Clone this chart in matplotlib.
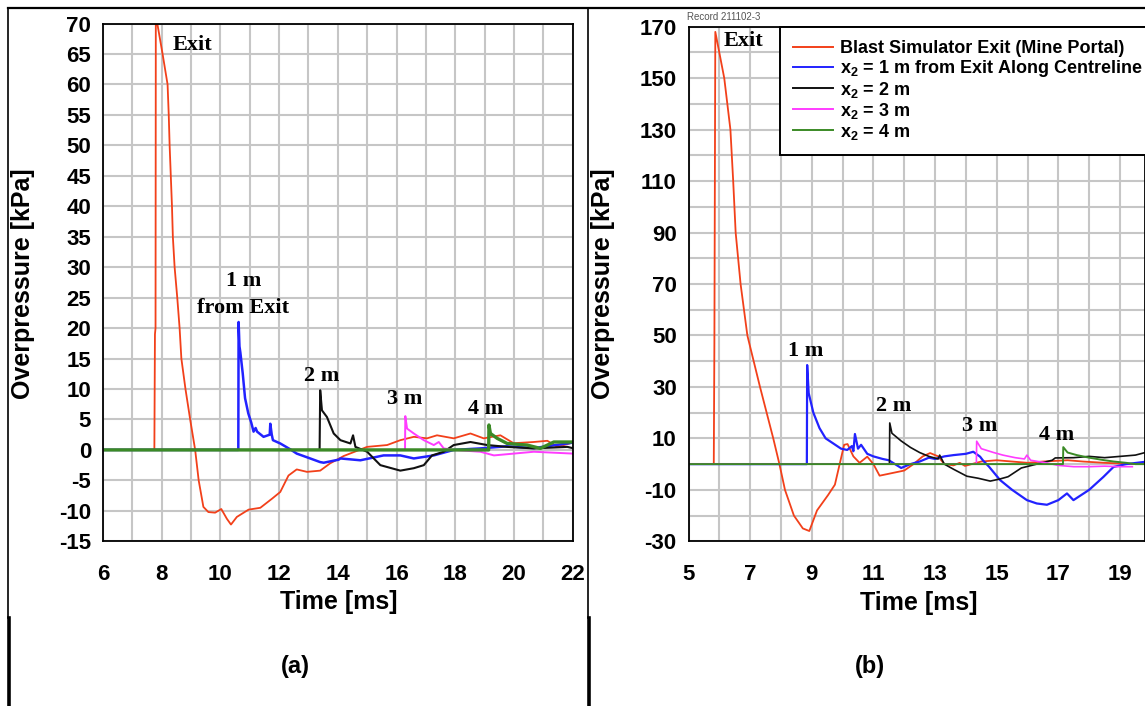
import matplotlib
matplotlib.use("Agg")
import matplotlib.pyplot as plt
from matplotlib.lines import Line2D
from matplotlib.ticker import MultipleLocator, FixedLocator

plt.rcParams["axes.unicode_minus"] = False
plt.rcParams["mathtext.fontset"] = "custom"
plt.rcParams["mathtext.rm"] = "Liberation Sans:bold"
plt.rcParams["mathtext.it"] = "Liberation Sans:bold"
plt.rcParams["mathtext.bf"] = "Liberation Sans:bold"

# ---------------- data: panel (a) ----------------
a_exit_t = [6.0, 7.75, 7.77, 7.79, 7.80, 7.85, 8.03, 8.20, 8.24, 8.27, 8.31, 8.35, 8.38, 8.44, 8.53, 8.61,
            8.67, 8.81, 8.97, 9.14, 9.26, 9.42, 9.59, 9.82, 10.03, 10.22, 10.36, 10.56, 10.96, 11.36,
            11.76, 12.04, 12.32, 12.60, 12.95, 13.40, 13.74, 14.09, 14.20, 15.00, 15.68, 16.13, 16.59,
            17.04, 17.38, 17.95, 18.52, 18.97, 19.54, 19.99, 20.67, 21.14, 21.48, 22.0]
a_exit_p = [0.0, 0.0, 19.0, 20.0, 74.0, 70.0, 65.0, 60.0, 55.0, 50.0, 45.0, 40.0, 35.0, 30.0, 25.0, 20.0,
            15.0, 10.0, 5.0, 0.0, -5.0, -9.35, -10.2, -10.3, -9.7, -11.3, -12.25, -11.0, -9.8, -9.5,
            -8.0, -6.9, -4.2, -3.2, -3.6, -3.4, -2.2, -1.3, -1.0, 0.5, 0.8, 1.6, 2.15,
            1.9, 2.4, 1.9, 2.7, 1.9, 2.4, 1.1, 1.3, 1.5, 0.5, 1.2]

a_1m_t = [6.0, 10.61, 10.62, 10.65, 10.68, 10.76, 10.84, 10.95, 11.05, 11.13, 11.20, 11.25, 11.47, 11.68,
          11.70, 11.75, 11.79, 12.04, 12.38, 12.60, 13.06, 13.40, 13.52, 14.03, 14.09, 14.77, 15.56,
          16.13, 16.59, 17.27, 17.95, 18.86, 19.77, 20.68, 21.82, 22.0]
a_1m_p = [0.0, 0.0, 21.0, 17.0, 16.0, 12.6, 8.5, 6.0, 4.5, 3.0, 3.6, 3.0, 2.15, 2.5,
          4.3, 2.5, 1.6, 1.06, 0.1, -0.6, -1.4, -2.0, -2.1, -1.6, -1.4, -1.7, -0.9,
          -0.9, -1.4, -0.9, 0.0, 0.25, 0.6, 0.3, 1.06, 1.2]

a_2m_t = [6.0, 13.38, 13.40, 13.46, 13.63, 13.86, 14.09, 14.43, 14.52, 14.60, 15.00, 15.45, 16.13,
          16.59, 16.93, 17.21, 17.61, 17.95, 18.52, 19.09, 19.77, 20.68, 21.82, 22.0]
a_2m_p = [0.0, 0.0, 9.8, 6.5, 5.4, 2.7, 1.6, 1.06, 2.4, 0.5, -0.3, -2.5, -3.4,
          -3.0, -2.5, -0.9, -0.3, 0.8, 1.3, 0.8, 0.5, 0.25, 0.5, 0.3]

a_3m_t = [6.0, 16.29, 16.30, 16.36, 16.59, 16.93, 17.27, 17.44, 17.61, 17.95, 18.86, 19.32, 20.0,
          20.68, 22.0]
a_3m_p = [0.0, 0.0, 5.55, 3.5, 2.7, 1.6, 0.8, 1.3, 0.25, 0.0, -0.3, -0.9, -0.6,
          -0.3, -0.6]

a_4m_t = [6.0, 19.14, 19.15, 19.20, 19.43, 19.77, 20.45, 20.90, 21.36, 22.0]
a_4m_p = [0.0, 0.0, 4.1, 2.7, 1.9, 1.06, 0.8, 0.25, 1.3, 1.3]

# ---------------- data: panel (b) ----------------
b_exit_t = [5.0, 5.82, 5.84, 5.87, 6.16, 6.36, 6.45, 6.53, 6.69, 6.91, 7.32, 7.75, 7.95, 8.13, 8.42,
            8.71, 8.92, 9.17, 9.53, 9.75, 10.05, 10.16, 10.35, 10.55, 10.80, 11.0, 11.2, 11.6, 12.0,
            12.3, 12.6, 12.84, 13.1, 13.3, 13.6, 13.8, 13.97, 14.5, 15.0, 15.5, 16.0, 16.5, 17.3,
            17.8, 18.5, 19.5, 19.82]
b_exit_p = [0.0, 0.0, 47.0, 168.0, 150.0, 130.0, 110.0, 90.0, 70.0, 50.0, 30.0, 10.0, 0.0, -10.0, -20.0,
            -25.0, -26.0, -18.0, -12.0, -8.0, 7.5, 7.8, 3.0, 0.5, 2.9, 0.0, -4.5, -3.5, -2.5,
            0.0, 3.0, 4.3, 3.0, 0.0, -0.5, 0.5, -0.7, 1.0, 1.5, 1.0, 0.5, 1.0, 1.5,
            1.0, 0.5, 0.0, 0.0]

b_1m_t = [5.0, 8.84, 8.85, 8.90, 9.05, 9.25, 9.45, 9.70, 9.95, 10.15, 10.30, 10.35, 10.40, 10.50,
          10.60, 10.80, 11.0, 11.3, 11.5, 11.7, 11.9, 12.2, 12.5, 12.8, 13.0, 13.3, 13.6, 14.0,
          14.24, 14.46, 14.55, 14.75, 15.11, 15.5, 15.98, 16.3, 16.63, 17.0, 17.28, 17.49, 18.0,
          18.46, 18.79, 19.2, 19.82]
b_1m_p = [0.0, 0.0, 38.5, 27.6, 20.0, 14.0, 10.0, 8.0, 6.0, 5.5, 7.0, 5.0, 11.7, 6.0,
          7.5, 4.0, 3.0, 2.0, 1.5, 0.0, -1.5, 0.0, 1.0, 2.5, 2.0, 3.0, 3.5, 4.0,
          4.8, 2.9, 1.5, -1.0, -6.2, -10.0, -14.0, -15.3, -15.8, -14.0, -11.4, -14.0, -10.0,
          -5.0, -1.1, 0.0, 0.9]

b_2m_t = [5.0, 11.52, 11.53, 11.60, 11.90, 12.20, 12.50, 12.80, 13.10, 13.15, 13.30, 13.60, 14.03,
          14.40, 14.79, 15.10, 15.37, 15.80, 16.30, 16.80, 16.90, 17.50, 18.0, 18.5, 19.0, 19.5, 19.82]
b_2m_p = [0.0, 0.0, 16.0, 12.0, 9.0, 6.5, 4.5, 3.0, 2.0, 3.5, 0.0, -2.0, -4.7,
          -5.5, -6.6, -5.8, -4.9, -1.5, 0.0, 1.5, 2.4, 2.5, 3.0, 2.5, 3.0, 3.5, 4.5]

b_3m_t = [5.0, 14.34, 14.35, 14.50, 14.90, 15.20, 15.60, 15.90, 15.98, 16.10, 16.60, 17.0, 17.5,
          18.0, 18.5, 19.0, 19.4]
b_3m_p = [0.0, 0.0, 8.9, 6.0, 4.5, 3.5, 2.5, 2.0, 3.5, 1.5, 0.5, -0.5, -1.0,
          -1.0, -0.8, -1.0, -1.0]

b_4m_t = [5.0, 17.15, 17.16, 17.30, 17.60, 18.0, 18.5, 18.8, 19.2, 19.5, 19.82]
b_4m_p = [0.0, 0.0, 6.6, 4.5, 3.5, 2.5, 1.5, 1.0, 0.5, 0.0, 0.0]

# tick values
a_xticks = [6, 8, 10, 12, 14, 16, 18, 20, 22]
a_yticks = [-15, -10, -5, 0, 5, 10, 15, 20, 25, 30, 35, 40, 45, 50, 55, 60, 65, 70]
b_xticks = [5, 7, 9, 11, 13, 15, 17, 19]
b_yticks = [-30, -10, 10, 30, 50, 70, 90, 110, 130, 150, 170]

legend_labels = ["Blast Simulator Exit (Mine Portal)",
                 r"$\mathrm{x}_{2}$ = 1 m from Exit Along Centreline",
                 r"$\mathrm{x}_{2}$ = 2 m", r"$\mathrm{x}_{2}$ = 3 m", r"$\mathrm{x}_{2}$ = 4 m"]

# annotations (text, x, y)
a_notes = [("Exit", 9.04, 66.4), ("1 m", 10.78, 27.75), ("from Exit", 10.78, 23.3),
           ("2 m", 13.44, 12.1), ("3 m", 16.27, 8.35), ("4 m", 19.03, 6.7)]
b_notes = [("Exit", 6.8, 164.6), ("1 m", 8.81, 44.0), ("2 m", 11.67, 22.5),
           ("3 m", 14.46, 14.8), ("4 m", 16.96, 11.3)]

C_RED = "#f2401a"
C_BLUE = "#2222ff"
C_BLACK = "#111111"
C_MAG = "#ff3cff"
C_GREEN = "#3b8a26"

SANS = ["Liberation Sans", "DejaVu Sans"]
SERIF = ["Liberation Serif", "DejaVu Serif"]

W, H = 1145, 706
fig = plt.figure(figsize=(W / 100, H / 100), dpi=100)
fig.patch.set_facecolor("white")


def px_rect(x0, y0, x1, y1):
    return [x0 / W, 1 - y1 / H, (x1 - x0) / W, (y1 - y0) / H]


def style_axes(ax, xticks, xmin, yticks, ymin):
    ax.xaxis.set_major_locator(FixedLocator(xticks))
    ax.xaxis.set_minor_locator(MultipleLocator(xmin))
    ax.yaxis.set_major_locator(FixedLocator(yticks))
    ax.yaxis.set_minor_locator(MultipleLocator(ymin))
    ax.grid(True, which="both", color="#c6c6c6", linewidth=1.5)
    ax.set_axisbelow(True)
    ax.tick_params(which="both", length=0)
    ax.tick_params(axis="y", pad=8.5, labelsize=16)
    ax.tick_params(axis="x", pad=16, labelsize=16)
    for lab in ax.get_xticklabels() + ax.get_yticklabels():
        lab.set_family(SANS)
        lab.set_fontweight("bold")
    for sp in ax.spines.values():
        sp.set_color("black")
        sp.set_linewidth(1.3)


# ---------------- panel (a) ----------------
axa = fig.add_axes(px_rect(103, 23.5, 572.6, 541.3))
axa.plot(a_exit_t, a_exit_p, color=C_RED, lw=1.3)
axa.plot(a_1m_t, a_1m_p, color=C_BLUE, lw=1.8)
axa.plot(a_2m_t, a_2m_p, color=C_BLACK, lw=1.5)
axa.plot(a_3m_t, a_3m_p, color=C_MAG, lw=1.4)
axa.plot(a_4m_t, a_4m_p, color=C_GREEN, lw=2.4)
axa.set_xlim(6, 22)
axa.set_ylim(-15, 70)
style_axes(axa, a_xticks, 1, a_yticks, 5)
axa.set_xlabel("Time [ms]", fontsize=18, fontweight="bold", family=SANS)
axa.set_ylabel("Overpressure [kPa]", fontsize=18, fontweight="bold", family=SANS)
axa.xaxis.set_label_coords(0.501, -0.095)
axa.yaxis.set_label_coords(-0.145, 0.498)
for txt, x, y in a_notes:
    axa.text(x, y, txt, ha="center", va="center", fontsize=16, fontweight="bold", family=SERIF)

# ---------------- panel (b) ----------------
axb = fig.add_axes(px_rect(688.5, 26.7, 1145, 541.3))
hb = []
hb += axb.plot(b_exit_t, b_exit_p, color=C_RED, lw=1.3)
hb += axb.plot(b_1m_t, b_1m_p, color=C_BLUE, lw=1.6)
hb += axb.plot(b_2m_t, b_2m_p, color=C_BLACK, lw=1.2)
hb += axb.plot(b_3m_t, b_3m_p, color=C_MAG, lw=1.2)
hb += axb.plot(b_4m_t, b_4m_p, color=C_GREEN, lw=1.4)
axb.set_xlim(5, 5 + (1145 - 688.5) / 30.82)
axb.set_ylim(-30, 170)
style_axes(axb, b_xticks, 1, b_yticks, 10)
axb.set_xlabel("Time [ms]", fontsize=18, fontweight="bold", family=SANS)
axb.set_ylabel("Overpressure [kPa]", fontsize=18, fontweight="bold", family=SANS)
axb.xaxis.set_label_coords(0.505, -0.097)
axb.yaxis.set_label_coords(-0.16, 0.5)
for txt, x, y in b_notes:
    axb.text(x, y, txt, ha="center", va="center", fontsize=16, fontweight="bold", family=SERIF)

leg = axb.legend(hb, legend_labels, loc="upper left",
                 bbox_to_anchor=(780 / W, 1 - 156 / H, 0.40, 129 / H),
                 bbox_transform=fig.transFigure, mode="expand",
                 prop={"family": SANS, "weight": "bold", "size": 13},
                 frameon=True, fancybox=False, framealpha=1, borderaxespad=0,
                 handlelength=2.2, handletextpad=0.42, labelspacing=0.05, borderpad=0.72)
leg.get_frame().set_edgecolor("black")
leg.get_frame().set_linewidth(1.4)
for ln in leg.get_lines():
    ln.set_linewidth(1.4)

fig.text(687 / W, 1 - 17 / H, "Record 211102-3", fontsize=7, color="#555555",
         family=SANS, ha="left", va="center")

# ---------------- captions and table frame ----------------
fig.text(295 / W, 1 - 667 / H, "(a)", fontsize=17, fontweight="bold", family=SANS,
         ha="center", va="center")
fig.text(870 / W, 1 - 667 / H, "(b)", fontsize=17, fontweight="bold", family=SANS,
         ha="center", va="center")

top = 1 - 8 / H
split = 1 - 618 / H
fig.add_artist(Line2D([8 / W, 1], [top, top], color="black", lw=1.6, transform=fig.transFigure))
for xp in (8.3, 588):
    fig.add_artist(Line2D([xp / W, xp / W], [split, top], color="black", lw=1.2,
                          transform=fig.transFigure))
    fig.add_artist(Line2D([(xp + 1) / W, (xp + 1) / W], [0, split], color="black", lw=2.6,
                          transform=fig.transFigure))

fig.savefig("out.png", dpi=100, facecolor="white")
